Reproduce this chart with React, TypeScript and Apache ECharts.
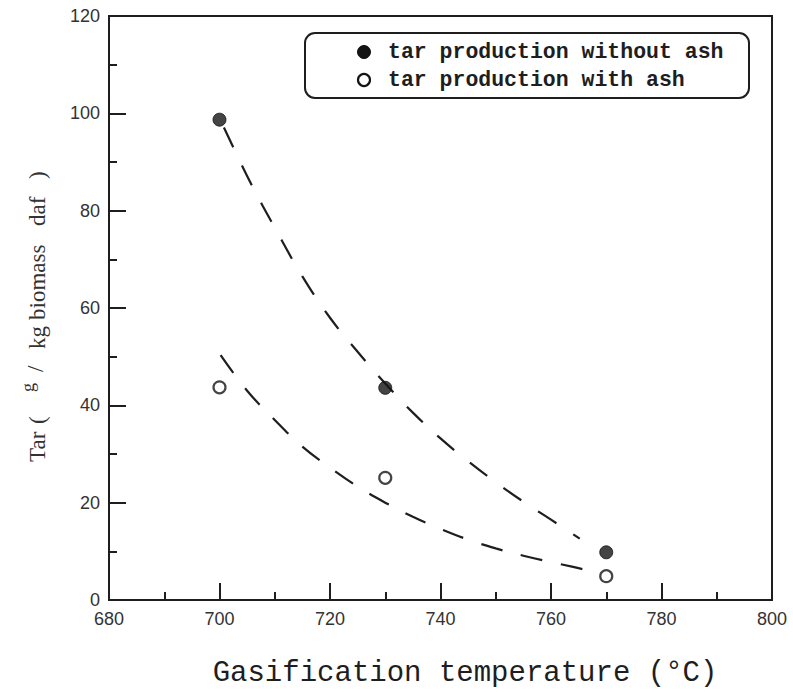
import React, { useEffect, useRef } from "react";
import * as echarts from "echarts";

// Measured points
const temperatures = [700, 730, 770];
const tarWithoutAsh = [98.7, 43.6, 9.8];
const tarWithAsh = [43.7, 25.1, 4.9];

// Dashed fitted curves
const curveWithoutAshX = [700.8, 705.5, 710, 715, 720, 725, 730, 735, 740, 745, 750, 755, 760, 765.2];
const curveWithoutAshY = [97.1, 86, 76.5, 66.5, 58, 51, 44.5, 38.5, 33.2, 28.5, 24.2, 20.2, 16.5, 12.6];
const curveWithAshX = [700.2, 705, 710, 715, 720, 725, 730, 735, 740, 745, 750, 755, 760, 764, 767];
const curveWithAshY = [50.3, 43, 37, 31.5, 27.2, 23.3, 20, 17.1, 14.6, 12.4, 10.6, 9.1, 7.8, 6.8, 6.0];

const xMin = 680;
const xMax = 800;
const xStep = 20;
const yMin = 0;
const yMax = 120;
const yStep = 20;

const legendLabels = ["tar production without ash", "tar production with ash"];
const xTitle = "Gasification temperature (\u00B0C)";

const INK = "#1e1e1e";

export default function App() {
  const ref = useRef<HTMLDivElement>(null);

  useEffect(() => {
    if (!ref.current) return;
    const chart = echarts.init(ref.current, undefined, { renderer: "svg" });
    const zip = (xs: number[], ys: number[]) => xs.map((x, i) => [x, ys[i]]);
    const serif = "'Liberation Serif', 'DejaVu Serif', serif";
    const mono = "'Liberation Mono', 'DejaVu Sans Mono', monospace";
    const sans = "'Liberation Sans', Arial, sans-serif";

    chart.setOption({
      animation: false,
      backgroundColor: "#ffffff",
      grid: {
        left: 109,
        right: 21,
        top: 16,
        bottom: 92,
        show: true,
        borderColor: INK,
        borderWidth: 2,
        backgroundColor: "transparent",
      },
      xAxis: {
        type: "value",
        min: xMin,
        max: xMax,
        interval: xStep,
        axisLine: { lineStyle: { color: INK, width: 2 } },
        axisTick: { inside: true, length: 17, lineStyle: { color: INK, width: 2 } },
        minorTick: { show: true, splitNumber: 2, length: 8, lineStyle: { color: INK, width: 2 } },
        splitLine: { show: false },
        axisLabel: { margin: 10, fontSize: 18, color: "#333", fontFamily: sans },
      },
      yAxis: {
        type: "value",
        min: yMin,
        max: yMax,
        interval: yStep,
        axisLine: { lineStyle: { color: INK, width: 2 } },
        axisTick: { inside: true, length: 17, lineStyle: { color: INK, width: 2 } },
        minorTick: { show: true, splitNumber: 2, length: 8, lineStyle: { color: INK, width: 2 } },
        splitLine: { show: false },
        axisLabel: { margin: 9, fontSize: 18, color: "#333", fontFamily: sans },
      },
      series: [
        {
          type: "line",
          data: zip(curveWithoutAshX, curveWithoutAshY),
          showSymbol: false,
          smooth: 0.4,
          lineStyle: { color: INK, width: 2.2, type: [22, 20] },
          silent: true,
          z: 2,
        },
        {
          type: "line",
          data: zip(curveWithAshX, curveWithAshY),
          showSymbol: false,
          smooth: 0.4,
          lineStyle: { color: INK, width: 2.2, type: [22, 19] },
          silent: true,
          z: 2,
        },
        {
          name: legendLabels[0],
          type: "scatter",
          data: zip(temperatures, tarWithoutAsh),
          symbol: "circle",
          symbolSize: 13,
          itemStyle: { color: "#151515", borderColor: "#111", borderWidth: 1 },
          z: 3,
        },
        {
          name: legendLabels[1],
          type: "scatter",
          data: zip(temperatures, tarWithAsh),
          symbol: "circle",
          symbolSize: 12,
          itemStyle: { color: "#ffffff", borderColor: "#151515", borderWidth: 2.2 },
          z: 3,
        },
      ],
      graphic: [
        {
          type: "rect",
          shape: { x: 305, y: 33, width: 444, height: 65, r: 10 },
          style: { fill: "#ffffff", stroke: INK, lineWidth: 2 },
          z: 10,
        },
        {
          type: "circle",
          shape: { cx: 364, cy: 52, r: 6.5 },
          style: { fill: "#151515", stroke: "#111", lineWidth: 1 },
          z: 11,
        },
        {
          type: "circle",
          shape: { cx: 364, cy: 80, r: 6 },
          style: { fill: "#ffffff", stroke: "#151515", lineWidth: 2.2 },
          z: 11,
        },
        {
          type: "text",
          x: 388,
          y: 52,
          style: {
            text: legendLabels[0],
            font: `bold 21.5px ${mono}`,
            fill: INK,
            textAlign: "left",
            textVerticalAlign: "middle",
          },
          z: 11,
        },
        {
          type: "text",
          x: 388,
          y: 80,
          style: {
            text: legendLabels[1],
            font: `bold 21.5px ${mono}`,
            fill: INK,
            textAlign: "left",
            textVerticalAlign: "middle",
          },
          z: 11,
        },
        {
          type: "text",
          x: 465,
          y: 673,
          style: {
            text: xTitle,
            font: `29px ${mono}`,
            fill: INK,
            textAlign: "center",
            textVerticalAlign: "middle",
          },
        },
        {
          type: "group",
          x: 37,
          y: 462,
          rotation: Math.PI / 2,
          children: [
            { t: "Tar", at: 0, dy: 0, size: 23 },
            { t: "(", at: 38, dy: 0, size: 23 },
            { t: "g", at: 70, dy: -9, size: 18 },
            { t: "/", at: 90, dy: -2, size: 23 },
            { t: "kg", at: 113, dy: 0, size: 23 },
            { t: "biomass", at: 142, dy: 0, size: 23 },
            { t: "daf", at: 236, dy: 0, size: 23 },
            { t: ")", at: 283, dy: 0, size: 23 },
          ].map((p) => ({
            type: "text",
            x: p.at,
            y: p.dy,
            style: {
              text: p.t,
              font: `${p.size}px ${serif}`,
              fill: "#333",
              textAlign: "left",
              textVerticalAlign: "middle",
            },
          })),
        },
      ],
    });

    return () => chart.dispose();
  }, []);

  return (
    <div
      ref={ref}
      style={{ position: "absolute", left: 0, top: 0, width: 793, height: 692 }}
    />
  );
}
